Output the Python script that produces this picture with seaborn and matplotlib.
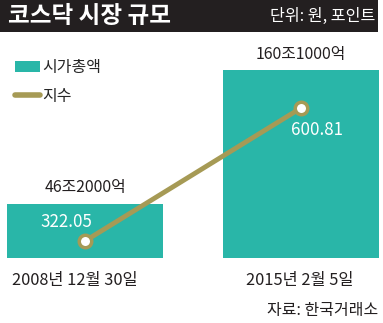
import matplotlib
matplotlib.use('Agg')
import matplotlib.pyplot as plt
import seaborn as sns
from matplotlib.patches import Rectangle, Patch
from matplotlib.lines import Line2D

# ---- data ----
categories = ['2008년 12월 30일', '2015년 2월 5일']
market_cap = [46.2, 160.1]          # 조 원
cap_labels = ['46조2000억', '160조1000억']
index_values = [322.05, 600.81]
index_labels = ['322.05', '600.81']
series_names = ['시가총액', '지수']
title = '코스닥 시장 규모'
unit_text = '단위: 원, 포인트'
source_text = '자료: 한국거래소'

TEAL = '#29b6a8'
OLIVE = '#a69a55'
DARK = '#231f20'

sns.set_theme(style='white')
plt.rcParams['font.family'] = ['Noto Sans CJK KR', 'DejaVu Sans']

W, H = 383, 323
fig = plt.figure(figsize=(W / 100, H / 100), dpi=100)
fig.patch.set_facecolor('white')


def fy(py):
    return 1 - py / H


PT = 0.72  # px -> pt at 100 dpi

# main axes (bars)
ax_top, ax_bottom = 40, 258
ax = fig.add_axes([0, fy(ax_bottom), 1, (ax_bottom - ax_top) / H])
sns.barplot(x=categories, y=market_cap, ax=ax, color=TEAL, saturation=1,
            width=156 / 216, edgecolor='none')
c0, unit = 85, 216
ax.set_xlim(-c0 / unit, (W - c0) / unit)
ax.set_ylim(0, 160.1 * (ax_bottom - ax_top) / (ax_bottom - 70))
ax.axis('off')

# twin axes (index line)
ax2 = ax.twinx()
sns.lineplot(x=[0, 1], y=index_values, ax=ax2, color=OLIVE, lw=3.5,
             marker='o', markersize=9, markerfacecolor='white',
             markeredgecolor=OLIVE, markeredgewidth=2.5, zorder=5)
ax2.set_ylim(286.42, 743.34)
ax2.set_xlim(ax.get_xlim())
ax2.axis('off')

# bar value labels
for i, (v, lab) in enumerate(zip(market_cap, cap_labels)):
    ax.annotate(lab, (i, v), xytext=(0, 16 * PT), textcoords='offset points',
                ha='center', va='center', fontsize=11.4, color='#231f20')

# index labels
idx_offsets = [(-19, 19), (16, -22)]
for i, (v, lab) in enumerate(zip(index_values, index_labels)):
    dx, dy = idx_offsets[i]
    ax2.annotate(lab, (i, v), xytext=(dx * PT, dy * PT), textcoords='offset points',
                 ha='center', va='center', fontsize=12.2, color='white', zorder=6)

# category labels
cat_offsets = [-10, -1]
for i, lab in enumerate(categories):
    ax.annotate(lab, (i, 0), xytext=(cat_offsets[i] * PT, -22 * PT),
                textcoords='offset points', ha='center', va='center',
                fontsize=11.8, color='#231f20', annotation_clip=False)

# title bar
fig.add_artist(Rectangle((0, fy(32)), 378 / W, 32 / H, transform=fig.transFigure,
                         facecolor=DARK, edgecolor='none', zorder=0))
fig.text(8 / W, fy(16), title, color='white', fontsize=17, fontweight='bold',
         ha='left', va='center')
fig.text(375 / W, fy(16), unit_text, color='white', fontsize=11.6,
         ha='right', va='center')

# legend
handles = [Patch(facecolor=TEAL, edgecolor='none'),
           Line2D([], [], color=OLIVE, lw=4, solid_capstyle='round')]
ax.legend(handles, series_names, loc='upper left',
          bbox_to_anchor=(15 / W, fy(59)), bbox_transform=fig.transFigure,
          frameon=False, borderpad=0, borderaxespad=0, fontsize=11.5,
          handlelength=1.56, handleheight=0.7, handletextpad=0.15,
          labelspacing=0.74)

# source
fig.text(378 / W, fy(310), source_text, fontsize=11.5, color='#231f20',
         ha='right', va='center')

fig.savefig('out.png', dpi=100)
